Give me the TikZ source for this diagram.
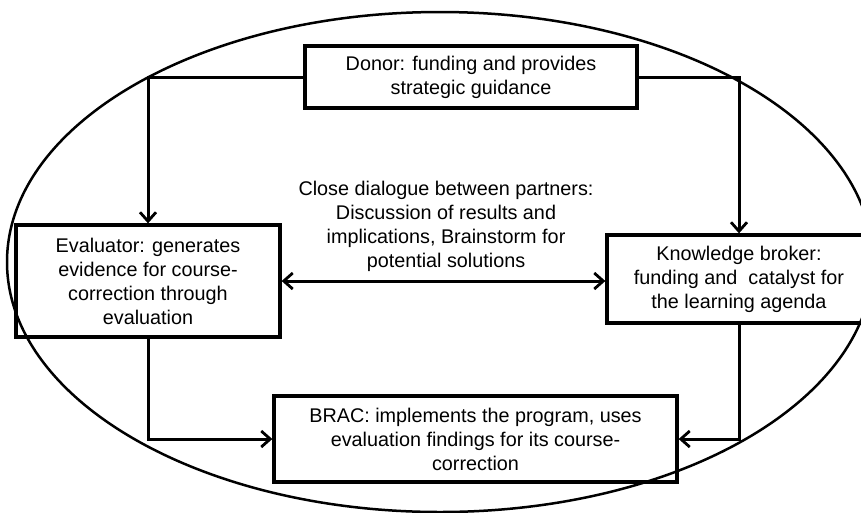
\documentclass[tikz,border=0pt]{standalone}
\usepackage{fontspec}
\setmainfont{Liberation Sans}
\usetikzlibrary{arrows.meta}
\begin{document}
\begin{tikzpicture}[x=1pt,y=-1pt,
  txt/.style={font=\fontsize{19.8}{24}\selectfont, align=center, text=black, inner sep=0pt},
  box/.style={txt, draw=black, line width=3.3pt, rectangle},
  arr/.style={line width=3pt, -{Straight Barb[length=9pt,width=16pt,line width=2.8pt]}},
  arrr/.style={line width=3pt, {Straight Barb[length=9pt,width=16pt,line width=2.8pt]}-{Straight Barb[length=9pt,width=16pt,line width=2.8pt]}},
  oval/.style={draw=black, line width=2.5pt}]
\useasboundingbox (0,0) rectangle (861,512);
\begin{scope}
\clip (0,0) rectangle (861,512);
\draw[oval] (440,262) ellipse [x radius=433, y radius=250];
\node[box, minimum width=332pt, minimum height=62pt] (donor) at (471,77)
  {Donor: funding and provides\\strategic guidance};
\node[box, minimum width=264pt, minimum height=112pt] (eval) at (148,281)
  {Evaluator: generates\\evidence for course-\\correction through\\evaluation};
\node[box, minimum width=264pt, minimum height=88pt] (kb) at (739,279)
  {Knowledge broker:\\funding and~ catalyst for\\the learning agenda};
\node[box, minimum width=403pt, minimum height=86pt] (brac) at (475.5,439)
  {BRAC: implements the program, uses\\evaluation findings for its course-\\correction};
\node[txt] (mid) at (446,226)
  {Close dialogue between partners:\\Discussion of results and\\implications, Brainstorm for\\potential solutions};
\draw[arr] (donor.west) -| (eval.north);
\draw[arr] (donor.east) -| (kb.north);
\draw[arr] (eval.south) |- (brac.west);
\draw[arr] (kb.south) |- (brac.east);
\draw[arrr] (eval.east) -- (eval.east -| kb.west);
\end{scope}
\end{tikzpicture}
\end{document}
